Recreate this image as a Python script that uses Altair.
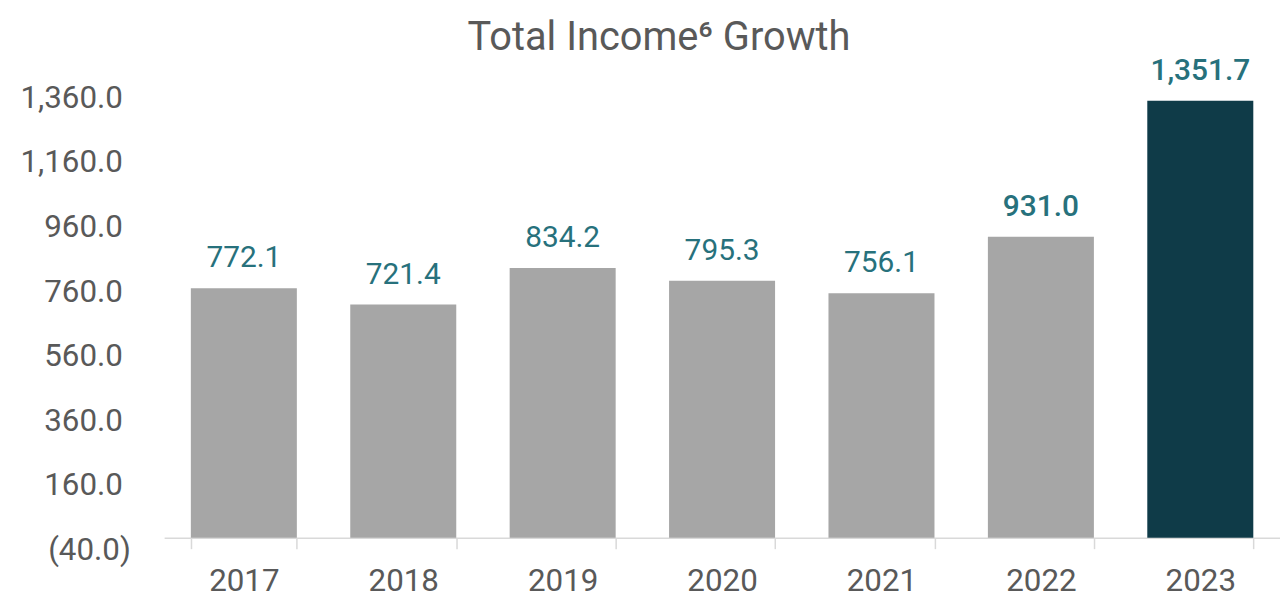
import altair as alt
import pandas as pd

years = ["2017", "2018", "2019", "2020", "2021", "2022", "2023"]
values = [772.1, 721.4, 834.2, 795.3, 756.1, 931.0, 1351.7]
bar_colors = ["#A6A6A6", "#A6A6A6", "#A6A6A6", "#A6A6A6", "#A6A6A6", "#A6A6A6", "#0F3B48"]
label_bold = [0, 0, 0, 0, 0, 1, 1]
y_ticks = [-40, 160, 360, 560, 760, 960, 1160, 1360]

df = pd.DataFrame({
    "year": years,
    "value": values,
    "color": bar_colors,
    "bold": label_bold,
    "label": [f"{v:,.1f}" for v in values],
})

H = 455
W = 1122
ymin, ymax = -40, 1360
offset = -(0 - ymin) / (ymax - ymin) * H

FONT = "Roboto"
GREY_TXT = "#595959"

x = alt.X(
    "year:N",
    sort=years,
    scale=alt.Scale(paddingInner=0.335, paddingOuter=0.1675),
    axis=alt.Axis(
        title=None,
        labelFont=FONT,
        labelFontSize=31.5,
        labelColor=GREY_TXT,
        labelAngle=0,
        labelPadding=17,
        domainColor="#D9D9D9",
        domainWidth=1.5,
        tickColor="#D9D9D9",
        tickWidth=1.5,
        tickSize=11,
        tickBand="extent",
        offset=offset,
    ),
)

y_scale = alt.Scale(domain=[ymin, ymax], nice=False, zero=False)

bars = alt.Chart(df).mark_bar().encode(
    x=x,
    y=alt.Y(
        "value:Q",
        scale=y_scale,
        axis=alt.Axis(
            title=None,
            values=y_ticks,
            labelExpr="datum.value < 0 ? '(' + format(-datum.value, ',.1f') + ')' : format(datum.value, ',.1f')",
            labelFont=FONT,
            labelFontSize=31.5,
            labelColor=GREY_TXT,
            labelPadding={"condition": {"test": "datum.value < 0", "value": 34}, "value": 42},
            domain=False,
            ticks=False,
            grid=False,
        ),
    ),
    y2=alt.datum(0),
    color=alt.Color("color:N", scale=None),
)

def value_labels(bold_flag, weight):
    return alt.Chart(df).transform_filter(
        alt.datum.bold == bold_flag
    ).mark_text(
        font=FONT, fontSize=30, color="#27717C", baseline="alphabetic", dy=-21,
        fontWeight=weight,
    ).encode(
        x=alt.X("year:N", sort=years),
        y=alt.Y("value:Q", scale=y_scale),
        text="label:N",
    )

chart = alt.layer(bars, value_labels(0, 400), value_labels(1, 500)).properties(
    width=W,
    height=H,
    autosize=alt.AutoSizeParams(type="none"),
    padding={"left": 157, "top": 89, "right": 0, "bottom": 56},
    title=alt.TitleParams(
        "Total Income\u2076 Growth",
        font=FONT,
        fontSize=40,
        fontWeight="normal",
        color=GREY_TXT,
        anchor="start",
        frame="group",
        dx=305,
        offset=-2,
    ),
).configure_view(stroke=None)

chart.save("out.html", embed_options={"renderer": "svg", "actions": False})
